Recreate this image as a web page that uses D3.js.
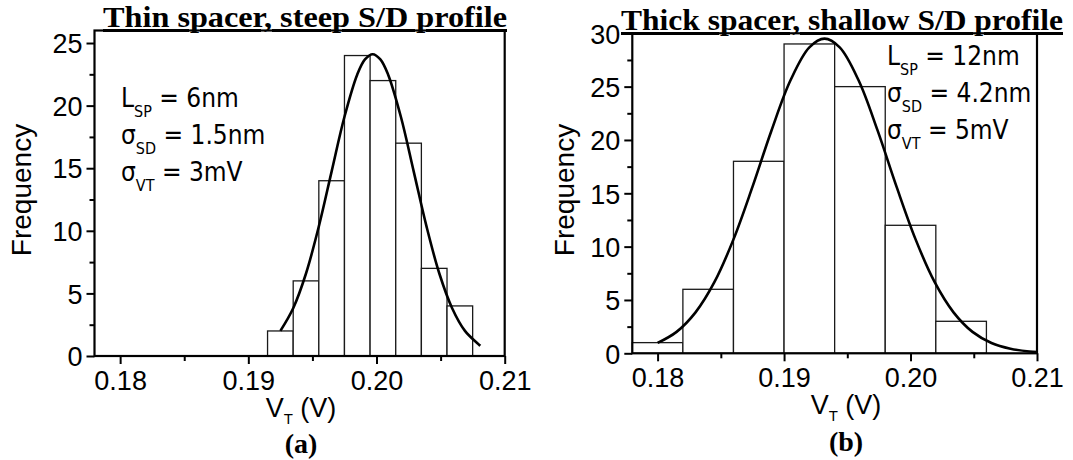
<!DOCTYPE html>
<html><head><meta charset="utf-8">
<script src="https://cdn.jsdelivr.net/npm/d3@7"></script>
<style>body{margin:0;background:#fff} svg{display:block}</style>
</head><body>
<script>
// ---- data ----
const xTicks = [0.18, 0.19, 0.20, 0.21];
const xTickLabels = ["0.18", "0.19", "0.20", "0.21"];
const xMinorTicks = [0.185, 0.195, 0.205];

const yTicksA = [0, 5, 10, 15, 20, 25];
const yMinorA = [2.5, 7.5, 12.5, 17.5, 22.5];
const binEdgesA = [0.1915, 0.1935, 0.1955, 0.1975, 0.1995, 0.2015, 0.2035, 0.2055, 0.2075];
const countsA = [2, 6, 14, 24, 22, 17, 7, 4];
const fitXA = [0.1925, 0.1935, 0.1945, 0.1955, 0.1965, 0.1975, 0.1985, 0.1991, 0.1997, 0.2003, 0.2009, 0.2019, 0.2029, 0.2039, 0.2049, 0.2059, 0.2069, 0.2081];
const fitYA = [2.01, 3.82, 6.59, 10.35, 14.75, 19.11, 22.49, 23.69, 24.1, 23.69, 22.49, 19.11, 14.75, 10.35, 6.59, 3.82, 2.01, 0.82];

const yTicksB = [0, 5, 10, 15, 20, 25, 30];
const yMinorB = [2.5, 7.5, 12.5, 17.5, 22.5, 27.5];
const binEdgesB = [0.178, 0.182, 0.186, 0.190, 0.194, 0.198, 0.202, 0.206];
const countsB = [1, 6, 18, 29, 25, 12, 3];
const fitXB = [0.1800, 0.1815, 0.1830, 0.1845, 0.1860, 0.1875, 0.1890, 0.1905, 0.1920, 0.1932, 0.1944, 0.1959, 0.1974, 0.1989, 0.2004, 0.2019, 0.2034, 0.2049, 0.2064, 0.2079, 0.2094, 0.2100];
const fitYB = [0.97, 2.01, 3.84, 6.69, 10.68, 15.60, 20.87, 25.57, 28.68, 29.5, 28.68, 25.57, 20.87, 15.60, 10.68, 6.69, 3.84, 2.01, 0.97, 0.43, 0.17, 0.12];

const titleA = "Thin spacer, steep S/D profile";
const titleB = "Thick spacer, shallow S/D profile";
const notesA = [["L", "SP", " = 6nm"], ["σ", "SD", " = 1.5nm"], ["σ", "VT", " = 3mV"]];
const notesB = [["L", "SP", " = 12nm"], ["σ", "SD", " = 4.2nm"], ["σ", "VT", " = 5mV"]];
const yLabel = "Frequency";
const panelLabels = ["(a)", "(b)"];

const xDomain = [0.178, 0.21];

const svg = d3.select("body").append("svg").attr("width", 1073).attr("height", 460);
const SANS = "'Liberation Sans', Arial, sans-serif";
const NOTE = "'DejaVu Sans', Tahoma, sans-serif";
const SERIF = "'Liberation Serif', 'Times New Roman', serif";

function panel(cfg) {
  const x = d3.scaleLinear().domain(xDomain).range(cfg.xr);
  const y = d3.scaleLinear().domain(cfg.yDomain).range(cfg.yr);
  const g = svg.append("g");

  // bars
  g.selectAll("rect.bar").data(cfg.counts).join("rect")
    .attr("class", "bar")
    .attr("x", (d, i) => x(cfg.edges[i]))
    .attr("width", (d, i) => x(cfg.edges[i + 1]) - x(cfg.edges[i]))
    .attr("y", d => y(d))
    .attr("height", d => y(0) - y(d))
    .attr("fill", "#fff").attr("stroke", "#1a1a1a").attr("stroke-width", 1.3);

  // fitted curve
  const line = d3.line().x(d => x(d[0])).y(d => y(d[1])).curve(d3.curveCatmullRom);
  g.append("path").datum(d3.zip(cfg.fitX, cfg.fitY))
    .attr("d", line).attr("fill", "none").attr("stroke", "#000").attr("stroke-width", 2.6);

  // frame
  g.append("rect")
    .attr("x", cfg.xr[0]).attr("y", cfg.yr[1])
    .attr("width", cfg.xr[1] - cfg.xr[0]).attr("height", cfg.yr[0] - cfg.yr[1])
    .attr("fill", "none").attr("stroke", "#000").attr("stroke-width", 2.2);

  // x axis
  const xa = g.append("g").attr("transform", `translate(0,${cfg.yr[0]})`)
    .call(d3.axisBottom(x).tickValues(xTicks).tickFormat((d, i) => xTickLabels[i]).tickSize(8).tickSizeOuter(0));
  xa.select(".domain").remove();
  xa.selectAll("line").attr("stroke-width", 2);
  xa.selectAll("text").attr("y", 34).attr("dy", 0)
    .attr("font-family", SANS).attr("font-size", 27).attr("fill", "#000");
  const xm = g.append("g").attr("transform", `translate(0,${cfg.yr[0]})`)
    .call(d3.axisBottom(x).tickValues(xMinorTicks).tickFormat("").tickSize(5).tickSizeOuter(0));
  xm.select(".domain").remove();
  xm.selectAll("line").attr("stroke-width", 2);

  // y axis
  const ya = g.append("g").attr("transform", `translate(${cfg.xr[0]},0)`)
    .call(d3.axisLeft(y).tickValues(cfg.yTicks).tickFormat(d3.format("d")).tickSize(8).tickSizeOuter(0));
  ya.select(".domain").remove();
  ya.selectAll("line").attr("stroke-width", 2);
  ya.selectAll("text").attr("x", -12).attr("dy", "0.36em")
    .attr("font-family", SANS).attr("font-size", 27).attr("fill", "#000");
  const ym = g.append("g").attr("transform", `translate(${cfg.xr[0]},0)`)
    .call(d3.axisLeft(y).tickValues(cfg.yMinor).tickFormat("").tickSize(5).tickSizeOuter(0));
  ym.select(".domain").remove();
  ym.selectAll("line").attr("stroke-width", 2);

  // title
  g.append("text").attr("x", cfg.titleX).attr("y", cfg.titleY)
    .attr("textLength", cfg.titleW).attr("lengthAdjust", "spacingAndGlyphs")
    .attr("font-family", SERIF).attr("font-weight", "bold").attr("font-size", 30)
    .attr("text-decoration", "underline")
    .text(cfg.title);

  // annotations
  cfg.notes.forEach((n, i) => {
    const t = g.append("g")
      .attr("transform", `translate(${cfg.noteX},${cfg.noteY + i * 37}) scale(0.9,1)`)
      .append("text")
      .attr("font-family", NOTE).attr("font-size", 26).attr("fill", "#000");
    t.append("tspan").text(n[0]);
    t.append("tspan").attr("font-size", 16).attr("dy", 10).text(n[1]);
    t.append("tspan").attr("dy", -10).text(n[2]);
  });

  // y label
  g.append("text")
    .attr("transform", `translate(${cfg.yLabX},${cfg.yLabY}) rotate(-90)`)
    .attr("text-anchor", "middle")
    .attr("font-family", SANS).attr("font-size", 28).text(yLabel);

  // x label
  const xl = g.append("text").attr("x", cfg.xLabX).attr("y", cfg.xLabY).attr("text-anchor", "middle")
    .attr("font-family", SANS).attr("font-size", 27);
  xl.append("tspan").text("V");
  xl.append("tspan").attr("font-size", 15).attr("dy", 7).text("T");
  xl.append("tspan").attr("dy", -7).text(" (V)");

  // panel letter
  g.append("text").attr("x", cfg.xLabX).attr("y", cfg.pLabY).attr("text-anchor", "middle")
    .attr("font-family", SERIF).attr("font-weight", "bold").attr("font-size", 28)
    .text(cfg.pLabel);
}

panel({
  xr: [94.5, 504.7], yr: [356, 30.5], yDomain: [0, 26],
  yTicks: yTicksA, yMinor: yMinorA, edges: binEdgesA, counts: countsA, fitX: fitXA, fitY: fitYA,
  title: titleA, titleX: 103, titleY: 27, titleW: 404,
  notes: notesA, noteX: 121, noteY: 107,
  yLabX: 31, yLabY: 190, xLabX: 301, xLabY: 417, pLabY: 453, pLabel: panelLabels[0]
});
panel({
  xr: [632.3, 1037], yr: [353.3, 33.3], yDomain: [0, 30],
  yTicks: yTicksB, yMinor: yMinorB, edges: binEdgesB, counts: countsB, fitX: fitXB, fitY: fitYB,
  title: titleB, titleX: 621, titleY: 30, titleW: 442,
  notes: notesB, noteX: 887, noteY: 65,
  yLabX: 574, yLabY: 190, xLabX: 846, xLabY: 414, pLabY: 451, pLabel: panelLabels[1]
});
</script>
</body></html>
